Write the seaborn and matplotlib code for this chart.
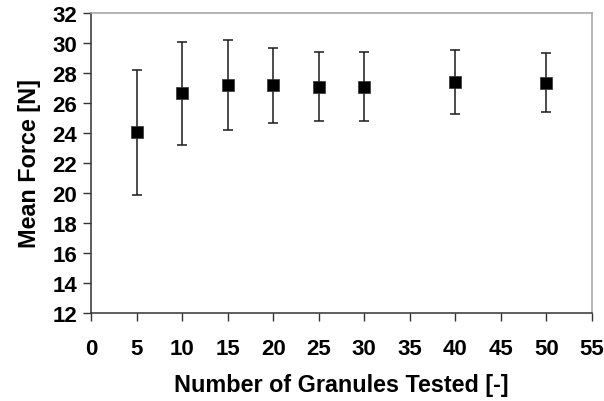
import matplotlib
matplotlib.use("Agg")
import matplotlib.pyplot as plt
import seaborn as sns
import pandas as pd

# Granule count vs. mean force, with standard-deviation spread
granules = [5, 10, 15, 20, 25, 30, 40, 50]
mean_force = [24.05, 26.65, 27.2, 27.2, 27.1, 27.1, 27.38, 27.36]
force_sd = [4.15, 3.45, 3.03, 2.5, 2.3, 2.33, 2.13, 1.98]

x_ticks = list(range(0, 56, 5))
y_ticks = list(range(12, 33, 2))

df = pd.DataFrame({"granules": granules, "force": mean_force, "sd": force_sd})

sns.set_theme(style="white")
plt.rcParams["font.family"] = ["Liberation Sans", "DejaVu Sans"]
plt.rcParams["font.weight"] = "bold"

fig = plt.figure(figsize=(6.04, 4.02), dpi=100)
ax = fig.add_axes([91 / 604, 88 / 402, 501 / 604, 300 / 402])

ax.errorbar(df["granules"], df["force"], yerr=df["sd"], fmt="none",
            ecolor="#1a1a1a", elinewidth=1.1, capsize=3.4, capthick=1.1, zorder=2)
sns.scatterplot(data=df, x="granules", y="force", marker="s", s=80,
                color="black", edgecolor="#333333", linewidth=0.5, ax=ax, zorder=3)

ax.set_xlim(0, 55)
ax.set_ylim(12, 32)
ax.set_xticks(x_ticks)
ax.set_yticks(y_ticks)
ax.tick_params(axis="both", which="major", direction="out", length=6,
               width=1.0, color="#333333", labelsize=16, pad=4,
               bottom=True, left=True, labelcolor="black")
ax.tick_params(axis="x", pad=12)
for lbl in ax.get_xticklabels() + ax.get_yticklabels():
    lbl.set_fontweight("bold")

ax.set_xlabel("Number of Granules Tested [-]", fontsize=16.8, fontweight="bold",
              labelpad=10, color="black")
ax.set_ylabel("Mean Force [N]", fontsize=16.8, fontweight="bold", labelpad=8,
              color="black")

for side in ("left", "bottom"):
    ax.spines[side].set_color("#333333")
    ax.spines[side].set_linewidth(1.1)
for side in ("top", "right"):
    ax.spines[side].set_color("#a0a0a0")
    ax.spines[side].set_linewidth(1.1)
    ax.spines[side].set_visible(True)

ax.grid(False)
fig.savefig("out.png", dpi=100, facecolor="white")
